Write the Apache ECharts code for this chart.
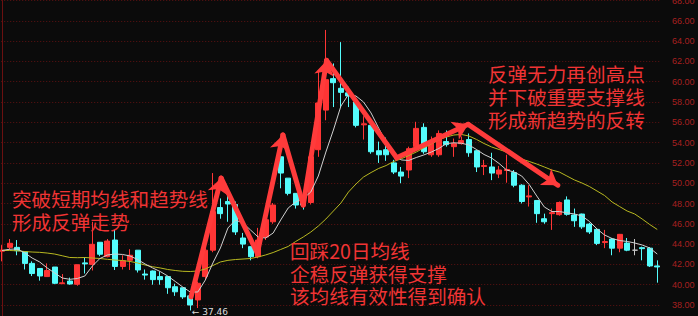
<!DOCTYPE html>
<html><head><meta charset="utf-8">
<script src="https://cdn.jsdelivr.net/npm/echarts@6/dist/echarts.min.js"></script>
<style>html,body{margin:0;padding:0;background:#0b0b0b;}#c{width:698px;height:316px;}</style>
</head><body><div id="c"></div>
<script>
// ---- data ----
const categories = ['1','2','3','4','5','6','7','8','9','10','11','12','13','14','15','16','17','18','19','20','21','22','23','24','25','26','27','28','29','30','31','32','33','34','35','36','37','38','39','40','41','42','43','44','45','46','47','48','49','50','51','52','53','54','55','56','57','58','59','60','61','62','63','64','65','66','67','68','69','70','71','72','73','74','75','76','77','78','79','80','81','82','83','84','85','86','87','88'];
const opens = [43.3,43.68,43.68,43.25,42.1,41.6,40.8,41.74,40.1,40.36,
  40.04,42.15,42.0,44.18,42.76,44.4,41.8,42.4,43.4,41.05,
  41.35,40.8,40.8,39.8,39.7,38.9,38.5,40.8,43.4,47.6,
  48.2,47.9,44.6,43.75,42.76,44.7,46.2,52.6,50.5,49.0,
  48.2,48.1,53.3,57.2,60.3,59.35,58.9,58.0,55.75,55.7,
  53.2,53.3,52.0,51.1,51.3,53.6,55.5,52.8,52.8,54.1,
  53.6,53.9,54.3,53.2,51.65,51.6,50.9,51.25,51.05,49.8,
  48.65,48.3,46.5,47.0,46.9,48.35,46.87,46.96,45.97,45.45,
  44.15,44.5,43.6,44.1,43.4,43.65,43.6,41.85];
const closes = [43.4,44.08,43.35,42.1,41.1,40.86,41.4,40.14,40.18,40.07,
  41.97,42.05,43.98,43.0,44.3,41.8,42.36,42.9,41.45,40.95,
  40.5,40.5,39.7,39.3,38.8,38.0,40.14,43.4,47.2,47.0,
  47.95,45.2,44.0,42.76,44.4,46.4,47.85,51.0,49.0,47.85,
  47.85,52.6,57.9,60.2,59.9,58.95,58.6,55.7,55.85,53.1,
  52.8,52.8,51.1,50.7,53.4,55.4,53.1,54.1,54.9,53.8,
  53.9,54.2,53.0,51.6,51.75,51.0,51.3,51.35,49.8,48.2,
  48.75,47.0,46.2,47.1,48.1,46.93,46.3,45.7,45.2,44.07,
  44.25,43.6,44.96,43.4,43.4,43.55,41.85,41.75];
const lows = [42.3,43.4,42.9,41.5,40.85,40.4,40.8,40.05,40.07,40.0,
  39.9,41.1,41.4,42.8,42.7,41.45,41.5,41.45,41.2,40.5,
  40.0,40.0,39.1,38.9,38.6,37.46,37.7,40.5,43.2,46.5,
  46.2,44.9,43.6,42.4,42.6,44.4,46.0,49.5,48.8,47.5,
  47.4,47.9,52.6,56.2,57.5,57.5,57.5,55.5,54.3,52.9,
  52.0,52.2,50.9,50.0,50.5,53.5,52.9,52.6,52.6,53.6,
  52.6,53.8,52.6,51.1,50.8,50.3,50.5,50.05,49.6,48.0,
  47.7,46.1,46.0,45.4,46.8,46.8,45.7,45.5,45.0,43.9,
  43.6,42.9,43.2,43.3,42.9,42.4,41.75,40.2];
const highs = [43.9,44.5,44.4,43.3,42.3,41.6,42.1,41.74,41.05,40.7,
  41.97,42.7,46.2,44.2,44.5,45.4,42.9,43.5,43.4,41.5,
  41.4,41.3,40.8,40.1,39.7,38.9,40.3,43.6,51.0,48.5,
  48.8,48.2,45.1,43.75,45.6,46.6,48.05,53.1,50.5,49.0,
  48.3,52.8,61.0,65.1,61.8,63.9,59.5,58.1,56.6,55.8,
  54.1,54.5,52.3,51.6,53.6,56.05,55.9,54.6,55.2,55.2,
  54.4,54.6,54.9,53.3,52.3,53.0,51.7,52.8,51.3,49.9,
  49.8,48.3,47.0,47.5,48.2,48.7,47.5,47.0,46.1,45.5,
  45.4,44.6,45.0,44.6,44.5,43.75,43.7,42.4];
const ma5 = [43.37,43.49,43.52,43.15,42.63,42.24,41.65,41.15,40.66,40.53,
  40.61,40.86,41.84,42.58,42.93,43.02,42.98,42.83,42.48,42.04,
  41.65,41.30,40.86,40.32,39.77,39.28,39.28,40.46,42.14,43.62,
  45.59,46.37,46.08,45.39,44.70,44.60,45.09,46.37,47.56,48.15,
  48.49,49.13,50.71,53.07,55.24,57.6,58.74,58.59,58.0,56.92,
  55.44,54.06,53.07,52.29,52.24,52.53,52.78,53.07,53.42,53.9,
  53.98,53.94,53.76,53.32,52.83,52.48,51.94,51.30,51.10,50.71,
  49.87,48.74,47.66,47.21,47.21,47.08,46.97,46.77,46.23,45.49,
  44.90,44.55,44.35,44.26,44.11,43.91,43.62,43.02];
const ma20 = [43.37,43.37,43.34,43.27,43.22,43.19,43.12,43.02,42.85,42.68,
  42.66,42.68,42.63,42.58,42.50,42.43,42.38,42.29,42.14,41.94,
  41.77,41.65,41.50,41.40,41.32,41.30,41.35,41.55,41.89,42.24,
  42.40,42.48,42.53,42.58,42.73,42.93,43.17,43.47,43.77,44.26,
  44.70,45.19,45.78,46.47,47.26,48.05,49.13,49.92,50.61,51.05,
  51.45,51.74,52.14,52.40,52.73,53.07,53.47,53.86,54.26,54.55,
  54.75,54.80,54.65,54.31,53.91,53.57,53.32,53.07,52.78,52.38,
  52.14,51.89,51.60,51.30,51.10,50.71,50.32,50.02,49.67,49.23,
  48.79,48.15,47.70,47.26,46.97,46.47,45.93,45.44];
// annotation arrow path in data coords [index, price]
const arrowPoints = [[25.1,38.8],[29.1,50.5],[33.9,43.1],[37.3,54.75],[40.0,47.85],[43.1,62.1],[52.4,52.5],[61.9,55.8],[73.8,49.8]];
const arrowHeads = [1,0,1,0,1,0,1,1];
const note1 = ['突破短期均线和趋势线','形成反弹走势'];
const note2 = ['回踩20日均线','企稳反弹获得支撑','该均线有效性得到确认'];
const note3 = ['反弹无力再创高点','并下破重要支撑线','形成新趋势的反转'];

// ---- build ----
const candles = opens.map((o,i)=>[o, closes[i], lows[i], highs[i]]);
const headSegs = [], plainSegs = [];
for (let i=0;i<arrowHeads.length;i++){
  const seg = {coords:[arrowPoints[i], arrowPoints[i+1]]};
  (arrowHeads[i] ? headSegs : plainSegs).push(seg);
}
const UP='#ff3535', DOWN='#54fcfc', NOTE='#f03434', ARROW='#ff3b3b';
const cjk = '"Noto Sans CJK SC", sans-serif';
const FS = 19.6;
function noteLines(lines, left, firstCenter, step){
  return lines.map((t,i)=>({type:'text', left:left, top:firstCenter + i*step - FS/2, z:10,
    style:{text:t, fill:NOTE, fontSize:FS, fontFamily:cjk, lineHeight:FS}}));
}
const chart = echarts.init(document.getElementById('c'), null, {renderer:'svg'});
chart.setOption({
  backgroundColor:'#0b0b0b',
  animation:false,
  grid:{left:-1.77, width:662.8, top:0.5, height:324.8, outerBoundsMode:'none', containLabel:false},
  xAxis:[
    {type:'category', data:categories, boundaryGap:true, show:false},
    {type:'value', min:-0.5, max:87.5, show:false}
  ],
  yAxis:{type:'value', position:'right', offset:1, min:36, max:68, interval:2,
    axisLine:{show:true, lineStyle:{color:'#6b1010', width:1}},
    axisTick:{show:false},
    axisLabel:{color:'#a82020', fontSize:9, fontFamily:'"Liberation Sans", Arial', margin:10,
      showMinLabel:false, formatter:v=>v.toFixed(2)},
    splitLine:{show:true, lineStyle:{color:'#5e1212', type:[1,2], width:1}}
  },
  series:[
    {type:'candlestick', data:candles, barWidth:5.5, z:2,
      itemStyle:{color:UP, color0:DOWN, borderColor:UP, borderColor0:DOWN, borderColorDoji:'#c8c8c8', borderWidth:1},
      markPoint:{symbol:'circle', symbolSize:1, itemStyle:{color:'rgba(0,0,0,0)'},
        data:[{type:'min', valueDim:'lowest'}],
        label:{show:true, position:'right', distance:1, offset:[0,2], color:'#dcdcdc', fontSize:9,
          fontFamily:'"DejaVu Sans", sans-serif', formatter:p=>'← '+Number(p.value).toFixed(2)}}
    },
    {type:'line', data:ma20, symbol:'none', z:3, lineStyle:{color:'#b8b820', width:1}},
    {type:'line', data:ma5, symbol:'none', z:3, lineStyle:{color:'#d0d0d0', width:1}},
    {type:'lines', coordinateSystem:'cartesian2d', xAxisIndex:1, yAxisIndex:0, z:5,
      data:plainSegs, symbol:['none','none'], lineStyle:{color:ARROW, width:5, opacity:1, cap:'round'}},
    {type:'lines', coordinateSystem:'cartesian2d', xAxisIndex:1, yAxisIndex:0, z:6,
      data:headSegs, symbol:['none','arrow'], symbolSize:15, lineStyle:{color:ARROW, width:5, opacity:1, cap:'round'}}
  ],
  graphic:[].concat(
    noteLines(note1, 12, 198, 23),
    noteLines(note2, 290, 250.7, 22.3),
    noteLines(note3, 488, 73.3, 23.3)
  )
});
</script></body></html>
